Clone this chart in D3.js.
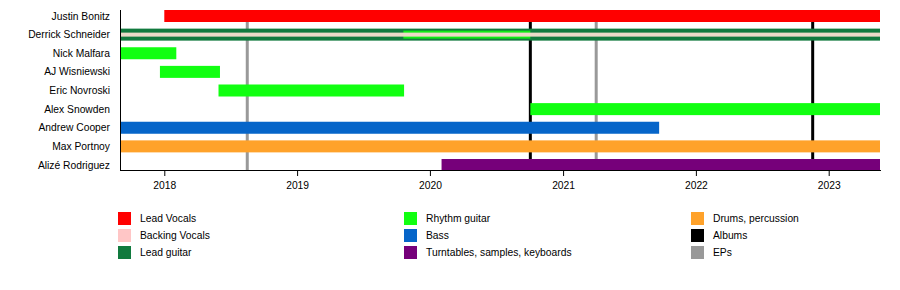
<!DOCTYPE html>
<html><head><meta charset="utf-8">
<script src="https://cdn.jsdelivr.net/npm/d3@7"></script>
<style>
html,body{margin:0;padding:0;background:#fff;}
text{font-family:"Liberation Sans",Arial,sans-serif;}
</style></head>
<body><svg id="chart" width="900" height="290"></svg>
<script>
const members = ["Justin Bonitz","Derrick Schneider","Nick Malfara","AJ Wisniewski","Eric Novroski","Alex Snowden","Andrew Cooper","Max Portnoy","Alizé Rodriguez"];
const roles = ["Lead Vocals","Backing Vocals","Lead guitar","Rhythm guitar","Bass","Turntables, samples, keyboards","Drums, percussion","Albums","EPs"];
const roleColors = ["#ff0000","#ffc6c6","#117a3e","#11ff11","#0665c9","#76007a","#ffa22a","#000000","#999999"];
const timelineStart = "2017-09-04", timelineEnd = "2023-05-22";
// [member, role, start, end, layer]  layer: full | stripe | overlay
const stints = [
  ["Justin Bonitz","Lead Vocals","2018-01-01",timelineEnd,"full"],
  ["Derrick Schneider","Lead guitar",timelineStart,timelineEnd,"full"],
  ["Derrick Schneider","Rhythm guitar","2019-10-20","2020-10-03","overlay"],
  ["Derrick Schneider","Backing Vocals",timelineStart,timelineEnd,"stripe"],
  ["Nick Malfara","Rhythm guitar",timelineStart,"2018-02-03","full"],
  ["AJ Wisniewski","Rhythm guitar","2017-12-20","2018-06-03","full"],
  ["Eric Novroski","Rhythm guitar","2018-05-30","2019-10-22","full"],
  ["Alex Snowden","Rhythm guitar","2020-10-03",timelineEnd,"full"],
  ["Andrew Cooper","Bass",timelineStart,"2021-09-22","full"],
  ["Max Portnoy","Drums, percussion",timelineStart,timelineEnd,"full"],
  ["Alizé Rodriguez","Turntables, samples, keyboards","2020-02-02",timelineEnd,"full"]
];
const releaseDates = ["2018-08-17","2020-10-03","2021-04-02","2022-11-18"];
const releaseTypes = ["EPs","Albums","EPs","Albums"];
const tickYears = [2018,2019,2020,2021,2022,2023];
const legendColumns = [["Lead Vocals","Backing Vocals","Lead guitar"],["Rhythm guitar","Bass","Turntables, samples, keyboards"],["Drums, percussion","Albums","EPs"]];

const parse = d3.timeParse("%Y-%m-%d");
const color = d3.scaleOrdinal(roles, roleColors);
const svg = d3.select("#chart");
const plotLeft = 121, plotRight = 880, plotTop = 10, plotBottom = 170;
const x = d3.scaleTime().domain([parse(timelineStart), parse(timelineEnd)]).range([plotLeft, plotRight]);
const y = d3.scalePoint().domain(members).range([16, 165]);
const barH = 12;

// release lines (behind bars)
svg.append("g").selectAll("line").data(releaseDates).join("line")
  .attr("x1", d => x(parse(d))).attr("x2", d => x(parse(d)))
  .attr("y1", plotTop).attr("y2", plotBottom)
  .attr("stroke", (d,i) => color(releaseTypes[i])).attr("stroke-width", 3);

const hFor = l => l === "full" ? barH : l === "overlay" ? 8 : 4;
svg.append("g").selectAll("rect").data(stints).join("rect")
  .attr("x", d => x(parse(d[2])))
  .attr("width", d => x(parse(d[3])) - x(parse(d[2])))
  .attr("y", d => y(d[0]) - hFor(d[4]) / 2)
  .attr("height", d => hFor(d[4]))
  .attr("fill", d => d[4] === "stripe" ? "#ecdac8" : color(d[1]))
  .attr("fill-opacity", d => d[4] === "overlay" ? 0.85 : 1);

// axes
svg.append("line").attr("x1", plotLeft - 0.5).attr("x2", plotLeft - 0.5).attr("y1", plotTop).attr("y2", plotBottom).attr("stroke", "#000");
const xAxis = svg.append("g").attr("transform", `translate(0,${plotBottom})`)
  .call(d3.axisBottom(x).tickValues(tickYears.map(yy => new Date(yy, 0, 1))).tickFormat(d3.timeFormat("%Y")).tickSize(6).tickSizeOuter(0).tickPadding(6));
xAxis.select(".domain").attr("d", `M${plotLeft - 1},0.5H${plotRight + 1}`);
xAxis.selectAll("text").attr("font-size", "10.3px").attr("font-family", "Liberation Sans, Arial, sans-serif").attr("fill", "#000");

svg.append("g").selectAll("text").data(members).join("text")
  .attr("x", 110).attr("y", d => y(d)).attr("dy", "0.35em")
  .attr("text-anchor", "end").attr("font-size", "10.3px").text(d => d);

// legend
const legendX = [118, 404, 691];
legendColumns.forEach((col, ci) => {
  const g = svg.append("g").attr("transform", `translate(${legendX[ci]},0)`);
  col.forEach((r, ri) => {
    const cy = 218 + ri * 17;
    g.append("rect").attr("x", 0).attr("y", cy - 6).attr("width", 13).attr("height", 13).attr("fill", color(r));
    g.append("text").attr("x", 22).attr("y", cy).attr("dy", "0.35em").attr("font-size", "10.3px").text(r);
  });
});
</script></body></html>
